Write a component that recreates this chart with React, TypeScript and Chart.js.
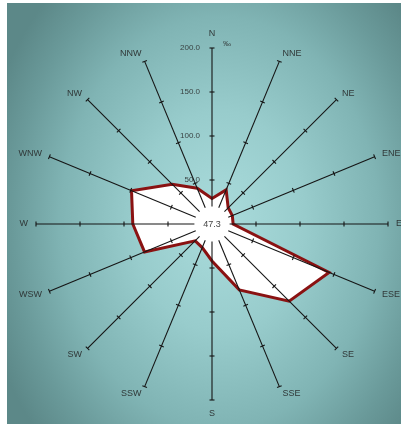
import { useEffect, useRef } from "react";
import { Chart, registerables } from "chart.js";

Chart.register(...registerables);

const directions = ["N", "NNE", "NE", "ENE", "E", "ESE", "SE", "SSE", "S", "SSW", "SW", "WSW", "W", "WNW", "NW", "NNW"];
const frequencies = [29, 42, 26, 25, 24, 144, 124, 81, 42, 29, 27, 83, 90, 99, 64, 44];
const tickValues = [50, 100, 150, 200];
const tickLabels = ["50.0", "100.0", "150.0", "200.0"];
const calmLabel = "47.3";
const unitLabel = "‰";
const scaleMax = 200;
const holeValue = 20;

const FONT = '"Liberation Sans", Arial, sans-serif';

const roseOverlay = {
  id: "roseOverlay",
  afterDatasetsDraw(chart: any) {
    const scale = chart.scales.r;
    const ctx = chart.ctx as CanvasRenderingContext2D;
    const cx = scale.xCenter;
    const cy = scale.yCenter;
    ctx.save();
    // calm hole
    const holeR = scale.getDistanceFromCenterForValue(holeValue);
    ctx.fillStyle = "#ffffff";
    ctx.beginPath();
    ctx.arc(cx, cy, holeR - 1, 0, Math.PI * 2);
    ctx.fill();

    ctx.strokeStyle = "#151515";
    ctx.lineWidth = 1.1;
    ctx.fillStyle = "#303838";
    directions.forEach((d, i) => {
      const a = scale.getPointPositionForValue(i, holeValue);
      const b = scale.getPointPositionForValue(i, scaleMax);
      ctx.beginPath();
      ctx.moveTo(a.x, a.y);
      ctx.lineTo(b.x, b.y);
      ctx.stroke();
      const ang = b.angle;
      const ux = Math.cos(ang);
      const uy = Math.sin(ang);
      const px = -uy;
      const py = ux;
      tickValues.forEach((v) => {
        const p = scale.getPointPositionForValue(i, v);
        ctx.beginPath();
        ctx.moveTo(p.x - px * 2.5, p.y - py * 2.5);
        ctx.lineTo(p.x + px * 2.5, p.y + py * 2.5);
        ctx.stroke();
      });
      // direction label
      const vertical = Math.abs(ux) < 0.1;
      const off = vertical ? 14 : 8;
      ctx.font = `9px ${FONT}`;
      ctx.textBaseline = "middle";
      ctx.textAlign = ux > 0.1 ? "left" : ux < -0.1 ? "right" : "center";
      ctx.fillText(d, b.x + ux * off, b.y + uy * off);
    });

    // tick labels along N axis
    ctx.font = `8px ${FONT}`;
    ctx.textAlign = "right";
    ctx.textBaseline = "middle";
    ctx.fillStyle = "#3a4444";
    tickValues.forEach((v, k) => {
      const p = scale.getPointPositionForValue(0, v);
      ctx.fillText(tickLabels[k], p.x - 12, p.y);
    });
    // unit
    const top = scale.getPointPositionForValue(0, scaleMax);
    ctx.textAlign = "left";
    ctx.font = `8px ${FONT}`;
    ctx.fillText(unitLabel, top.x + 11, top.y - 4);

    // calm value
    ctx.font = `9px ${FONT}`;
    ctx.textAlign = "center";
    ctx.fillStyle = "#444";
    ctx.fillText(calmLabel, cx, cy + 1);
    ctx.restore();
  },
};

export default function App() {
  const ref = useRef<HTMLCanvasElement | null>(null);
  useEffect(() => {
    if (!ref.current) return;
    const chart = new Chart(ref.current, {
      type: "radar",
      data: {
        labels: directions,
        datasets: [
          {
            data: frequencies,
            borderColor: "#8a1212",
            borderWidth: 3,
            backgroundColor: "#ffffff",
            fill: true,
            pointRadius: 0,
            pointHoverRadius: 0,
            tension: 0,
            borderJoinStyle: "miter",
          } as any,
        ],
      },
      options: {
        responsive: false,
        maintainAspectRatio: false,
        animation: false,
        layout: { padding: { left: 29, top: 45, right: 13, bottom: 24 } },
        plugins: { legend: { display: false }, tooltip: { enabled: false } },
        scales: {
          r: {
            min: 0,
            max: scaleMax,
            grid: { display: false },
            angleLines: { display: false },
            ticks: { display: false, stepSize: 50 },
            pointLabels: { display: false },
          },
        },
      },
      plugins: [roseOverlay],
    });
    return () => chart.destroy();
  }, []);

  return (
    <div
      style={{
        position: "fixed",
        left: 7,
        top: 3,
        width: 394,
        height: 421,
        background:
          "radial-gradient(ellipse 62% 75% at 54% 52%, #aadcdc 0%, #98cccc 35%, #80b4b4 65%, #6a9a9a 85%, #5c8888 100%)",
      }}
    >
      <canvas ref={ref} width={394} height={421} style={{ width: 394, height: 421, display: "block" }} />
    </div>
  );
}
